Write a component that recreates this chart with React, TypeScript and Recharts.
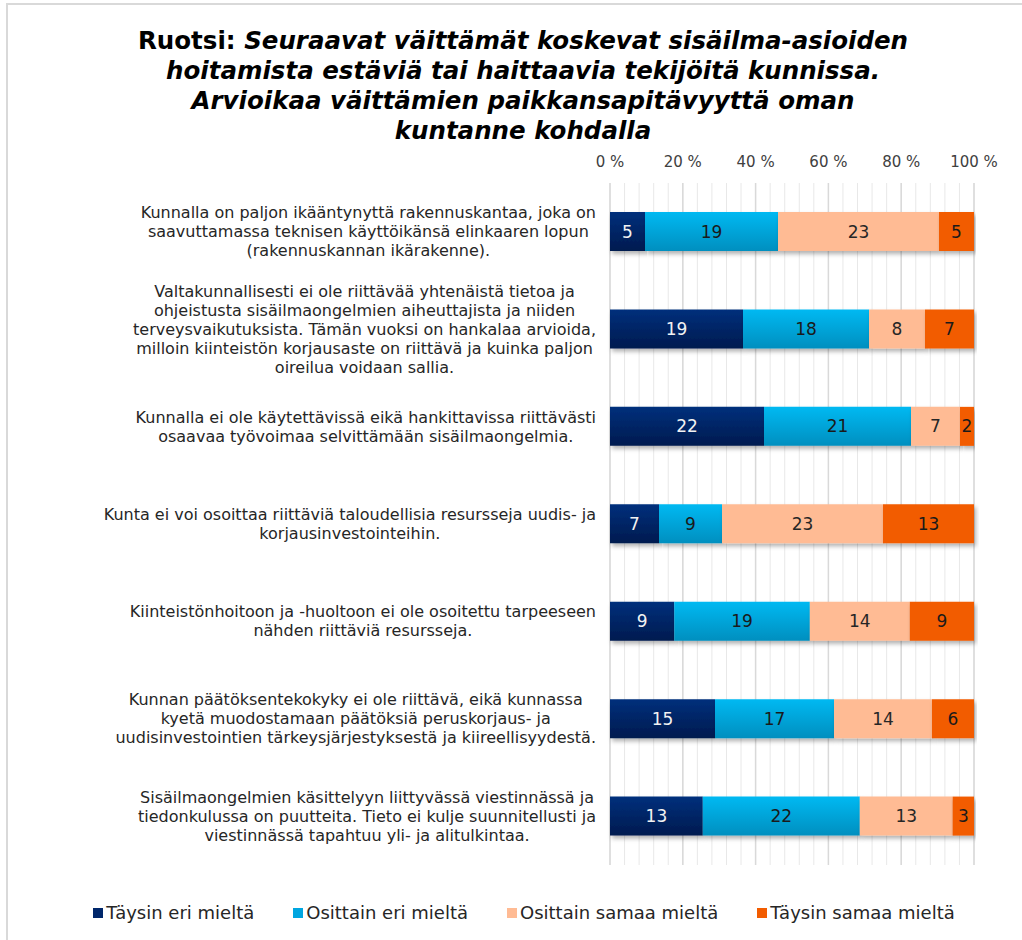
import { Bar, BarChart, CartesianGrid, LabelList, XAxis, YAxis } from 'recharts';

const categories = [
  'Kunnalla on paljon ikääntynyttä rakennuskantaa, joka on\nsaavuttamassa teknisen käyttöikänsä elinkaaren lopun\n(rakennuskannan ikärakenne).',
  'Valtakunnallisesti ei ole riittävää yhtenäistä tietoa ja\nohjeistusta sisäilmaongelmien aiheuttajista ja niiden\nterveysvaikutuksista. Tämän vuoksi on hankalaa arvioida,\nmilloin kiinteistön korjausaste on riittävä ja kuinka paljon\noireilua voidaan sallia.',
  'Kunnalla ei ole käytettävissä eikä hankittavissa riittävästi\nosaavaa työvoimaa selvittämään sisäilmaongelmia.',
  'Kunta ei voi osoittaa riittäviä taloudellisia resursseja uudis- ja\nkorjausinvestointeihin.',
  'Kiinteistönhoitoon ja -huoltoon ei ole osoitettu tarpeeseen\nnähden riittäviä resursseja.',
  'Kunnan päätöksentekokyky ei ole riittävä, eikä kunnassa\nkyetä muodostamaan päätöksiä peruskorjaus- ja\nuudisinvestointien tärkeysjärjestyksestä ja kiireellisyydestä.',
  'Sisäilmaongelmien käsittelyyn liittyvässä viestinnässä ja\ntiedonkulussa on puutteita. Tieto ei kulje suunnitellusti ja\nviestinnässä tapahtuu yli- ja alitulkintaa.',
];

const taysinEri = [5, 19, 22, 7, 9, 15, 13];
const osittainEri = [19, 18, 21, 9, 19, 17, 22];
const osittainSamaa = [23, 8, 7, 23, 14, 14, 13];
const taysinSamaa = [5, 7, 2, 13, 9, 6, 3];

const percentTicks = [0, 0.2, 0.4, 0.6, 0.8, 1];

const series = [
  { key: 'taysinEri', label: 'Täysin eri mieltä', fill: 'url(#gNavy)', swatch: '#00276b', text: '#f2f2f2' },
  { key: 'osittainEri', label: 'Osittain eri mieltä', fill: 'url(#gBlue)', swatch: '#00a6e0', text: '#1a1a1a' },
  { key: 'osittainSamaa', label: 'Osittain samaa mieltä', fill: '#ffbb94', swatch: '#ffbb94', text: '#262626' },
  { key: 'taysinSamaa', label: 'Täysin samaa mieltä', fill: '#f25c00', swatch: '#f25c00', text: '#1a1a1a' },
];

const data = categories.map((name, i) => ({
  name,
  taysinEri: taysinEri[i],
  osittainEri: osittainEri[i],
  osittainSamaa: osittainSamaa[i],
  taysinSamaa: taysinSamaa[i],
}));

const FONT = '"DejaVu Sans", sans-serif';
const LABEL_FONT = `16px ${FONT}`;

let measureCtx: CanvasRenderingContext2D | null = null;
function textWidth(s: string) {
  if (!measureCtx) measureCtx = document.createElement('canvas').getContext('2d');
  if (!measureCtx) return s.length * 9;
  measureCtx.font = LABEL_FONT;
  return measureCtx.measureText(s).width;
}

// kategoriateksti: rivit keskitetään, pisin rivi päättyy akselin viereen
function CategoryTick({ x, y, payload }: any) {
  const lines = String(payload.value).split('\n');
  const maxW = Math.max(...lines.map(textWidth));
  const cx = x - maxW / 2;
  const lh = 19;
  return (
    <text x={cx} y={y} textAnchor="middle" fill="#262626" style={{ font: LABEL_FONT }}>
      {lines.map((l, i) => (
        <tspan key={i} x={cx} y={y + (i - (lines.length - 1) / 2) * lh} dominantBaseline="central">
          {l}
        </tspan>
      ))}
    </text>
  );
}

const minorGrid = ({ offset }: any) =>
  Array.from({ length: 26 }, (_, i) => offset.left + (offset.width * i) / 25);
const majorGrid = ({ offset }: any) =>
  Array.from({ length: 6 }, (_, i) => offset.left + (offset.width * i) / 5);

export default function App() {
  return (
    <div style={{ position: 'absolute', left: 0, top: 0, width: 1022, height: 940, background: '#fff', overflow: 'hidden' }}>
      <div
        style={{
          position: 'absolute',
          left: 6,
          top: 3,
          width: 1030,
          height: 960,
          border: '2px solid #d9d9d9',
          boxSizing: 'border-box',
        }}
      />
      <div
        style={{
          position: 'absolute',
          left: 0,
          top: 26,
          width: 1046,
          textAlign: 'center',
          fontFamily: '"DejaVu Sans", sans-serif',
          fontWeight: 'bold',
          fontSize: 24.5,
          lineHeight: '30px',
          color: '#000',
        }}
      >
        Ruotsi: <i>Seuraavat väittämät koskevat sisäilma-asioiden</i>
        <br />
        <i>hoitamista estäviä tai haittaavia tekijöitä kunnissa.</i>
        <br />
        <i>Arvioikaa väittämien paikkansapitävyyttä oman</i>
        <br />
        <i>kuntanne kohdalla</i>
      </div>
      <div style={{ position: 'absolute', left: 0, top: 0 }}>
        <BarChart
          width={1022}
          height={940}
          data={data}
          layout="vertical"
          stackOffset="expand"
          margin={{ top: 153, right: 48, bottom: 75, left: 96 }}
          barSize={39}
        >
          <defs>
            <linearGradient id="gNavy" x1="0" y1="0" x2="0" y2="1">
              <stop offset="0%" stopColor="#00307c" />
              <stop offset="100%" stopColor="#001a4f" />
            </linearGradient>
            <linearGradient id="gBlue" x1="0" y1="0" x2="0" y2="1">
              <stop offset="0%" stopColor="#00b9f2" />
              <stop offset="100%" stopColor="#008fbf" />
            </linearGradient>
            <filter id="shadow" x="-5%" y="-20%" width="110%" height="160%">
              <feDropShadow dx="2" dy="3" stdDeviation="2" floodColor="#000" floodOpacity="0.3" />
            </filter>
          </defs>
          <CartesianGrid horizontal={false} stroke="#e8e8e8" strokeWidth={1} verticalCoordinatesGenerator={minorGrid} />
          <CartesianGrid horizontal={false} stroke="#d9d9d9" strokeWidth={1.5} verticalCoordinatesGenerator={majorGrid} />
          <XAxis
            type="number"
            orientation="top"
            domain={[0, 1]}
            ticks={percentTicks}
            tickFormatter={(v: number) => `${Math.round(v * 100)} %`}
            axisLine={false}
            tickLine={false}
            tickMargin={10}
            height={30}
            tick={{ fontSize: 15, fill: '#404040', fontFamily: FONT }}
          />
          <YAxis
            type="category"
            dataKey="name"
            width={514}
            axisLine={false}
            tickLine={false}
            tickMargin={8}
            tick={<CategoryTick />}
            interval={0}
          />
          {series.map((s) => (
            <Bar key={s.key} dataKey={s.key} stackId="a" fill={s.fill} isAnimationActive={false} filter="url(#shadow)">
              <LabelList
                dataKey={s.key}
                position="center"
                fill={s.text}
                style={{ fontSize: 17, fontFamily: FONT }}
              />
            </Bar>
          ))}
        </BarChart>
      </div>
      <div
        style={{
          position: 'absolute',
          left: 0,
          top: 901,
          width: 1048,
          display: 'flex',
          justifyContent: 'center',
          gap: 39,
          fontFamily: FONT,
          fontSize: 18,
          color: '#262626',
          lineHeight: '24px',
        }}
      >
        {series.map((s) => (
          <div key={s.key} style={{ display: 'flex', alignItems: 'center' }}>
            <span style={{ width: 10, height: 10, background: s.swatch, marginRight: 3, display: 'inline-block' }} />
            {s.label}
          </div>
        ))}
      </div>
    </div>
  );
}
